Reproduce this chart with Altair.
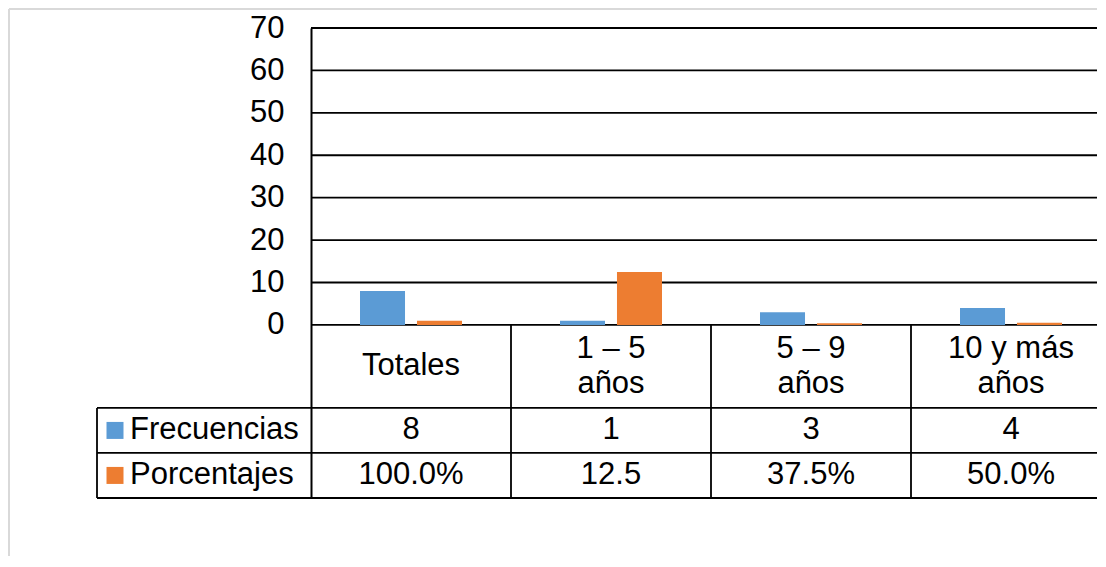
import altair as alt
import pandas as pd

# ---------------- data ----------------
categories = ["Totales", "1 – 5 años", "5 – 9 años", "10 y más años"]
category_labels = ["Totales", "1 – 5\naños", "5 – 9\naños", "10 y más\naños"]
series = ["Frecuencias", "Porcentajes"]
frecuencias = [8, 1, 3, 4]
porcentajes = [1.0, 12.5, 0.375, 0.5]          # values as plotted (Excel)
frecuencias_txt = ["8", "1", "3", "4"]
porcentajes_txt = ["100.0%", "12.5", "37.5%", "50.0%"]
y_ticks = [0, 10, 20, 30, 40, 50, 60, 70]
colors = ["#5B9BD5", "#ED7D31"]

# ---------------- layout constants ----------------
FONT = "Liberation Sans"
FS = 31
W, H = 786, 470          # visible plot area (page edge cuts the last column)
X_RANGE = 800            # full width of the 4 table columns
EDGE = 786               # right edge of the page, relative to plot
Y_MIN, Y_MAX = -40.8, 70
ROW1_MID, ROW2_MID, ROW3_MID = -9.78, -24.87, -35.48
ROW1_BOT, ROW2_BOT, ROW3_BOT = -19.57, -30.17, -40.8
LEG_LEFT = -214

# ---------------- tables ----------------
bars = pd.DataFrame({
    "cat": categories * 2,
    "serie": [series[0]] * 4 + [series[1]] * 4,
    "valor": frecuencias + porcentajes,
})
head_df = pd.DataFrame({"cat": categories, "label": category_labels})
head_df["nlines"] = head_df["label"].str.count("\n") + 1
cells = pd.DataFrame({
    "cat": categories * 2,
    "label": frecuencias_txt + porcentajes_txt,
    "row": [ROW2_MID] * 4 + [ROW3_MID] * 4,
})
legend_df = pd.DataFrame({"serie": series, "row": [ROW2_MID, ROW3_MID]})
hlines = pd.DataFrame({"yv": [ROW1_BOT, ROW2_BOT, ROW3_BOT]})
grid_df = pd.DataFrame({"yv": y_ticks})
vlines = pd.DataFrame({"cat": categories[1:]})
one = pd.DataFrame({"k": [0]})

xscale = alt.Scale(domain=categories, range=[0, X_RANGE], paddingInner=0, paddingOuter=0)
yscale = alt.Scale(domain=[Y_MIN, Y_MAX], nice=False, zero=False)
cscale = alt.Scale(domain=series, range=colors)

X = alt.X("cat:N", sort=categories, scale=xscale, axis=None)

grid_layer = alt.Chart(grid_df).mark_rule(color="#000", strokeWidth=1.8).encode(
    x=alt.value(0), x2=alt.value(EDGE), y=alt.Y("yv:Q", scale=yscale),
)

bar_layer = alt.Chart(bars).mark_bar().encode(
    x=X,
    xOffset=alt.XOffset("serie:N", sort=series,
                        scale=alt.Scale(domain=series, paddingInner=0.21, paddingOuter=0.86)),
    y=alt.Y("valor:Q", scale=yscale, title=None,
            axis=alt.Axis(values=y_ticks, ticks=False, labelPadding=27,
                          labelFont=FONT, labelFontSize=FS, labelColor="#000",
                          domainColor="#000", domainWidth=2, grid=False)),
    y2=alt.datum(0),
    color=alt.Color("serie:N", scale=cscale, legend=None),
)

head_one = alt.Chart(head_df).transform_filter("datum.nlines == 1").mark_text(
    font=FONT, fontSize=FS, color="#000", baseline="middle", align="center",
).encode(x=X, y=alt.datum(ROW1_MID), text="label:N")

head_two = alt.Chart(head_df).transform_filter("datum.nlines == 2").mark_text(
    font=FONT, fontSize=FS, color="#000", baseline="middle", align="center",
    lineBreak="\n", lineHeight=35, dy=-17,
).encode(x=X, y=alt.datum(ROW1_MID), text="label:N")

cell_text = alt.Chart(cells).mark_text(
    font=FONT, fontSize=FS, color="#000", baseline="middle", align="center",
).encode(x=X, y=alt.Y("row:Q", scale=yscale), text="label:N")

legend_sw = alt.Chart(legend_df).mark_square(size=289, opacity=1).encode(
    x=alt.value(-196), y=alt.Y("row:Q", scale=yscale),
    color=alt.Color("serie:N", scale=cscale, legend=None),
)
legend_txt = alt.Chart(legend_df).mark_text(
    font=FONT, fontSize=FS, color="#000", align="left", baseline="middle",
).encode(x=alt.value(-181), y=alt.Y("row:Q", scale=yscale), text="serie:N")

hrules = alt.Chart(hlines).mark_rule(color="#000", strokeWidth=1.8).encode(
    x=alt.value(LEG_LEFT), x2=alt.value(EDGE), y=alt.Y("yv:Q", scale=yscale),
)
vrules = alt.Chart(vlines).mark_rule(color="#000", strokeWidth=1.8).encode(
    x=alt.X("cat:N", sort=categories, scale=xscale, axis=None, bandPosition=0),
    y=alt.datum(0), y2=alt.datum(ROW3_BOT),
)
leg_vrule = alt.Chart(one).mark_rule(color="#000", strokeWidth=1.8).encode(
    x=alt.value(LEG_LEFT), y=alt.datum(ROW1_BOT), y2=alt.datum(ROW3_BOT),
)
# outer chart-area border (light grey, left and top edges)
border_left = alt.Chart(one).mark_rule(color="#D9D9D9", strokeWidth=2).encode(
    x=alt.value(-302), y=alt.value(-19), y2=alt.value(528),
)
border_top = alt.Chart(one).mark_rule(color="#D9D9D9", strokeWidth=2).encode(
    x=alt.value(-302), x2=alt.value(EDGE), y=alt.value(-19),
)

chart = alt.layer(
    border_left, border_top, grid_layer, bar_layer, hrules, vrules, leg_vrule,
    head_one, head_two, cell_text, legend_sw, legend_txt,
).properties(width=W, height=H, padding=0, background="white").configure_view(stroke=None)

chart.save("out.html", embed_options={"renderer": "svg", "actions": False})
